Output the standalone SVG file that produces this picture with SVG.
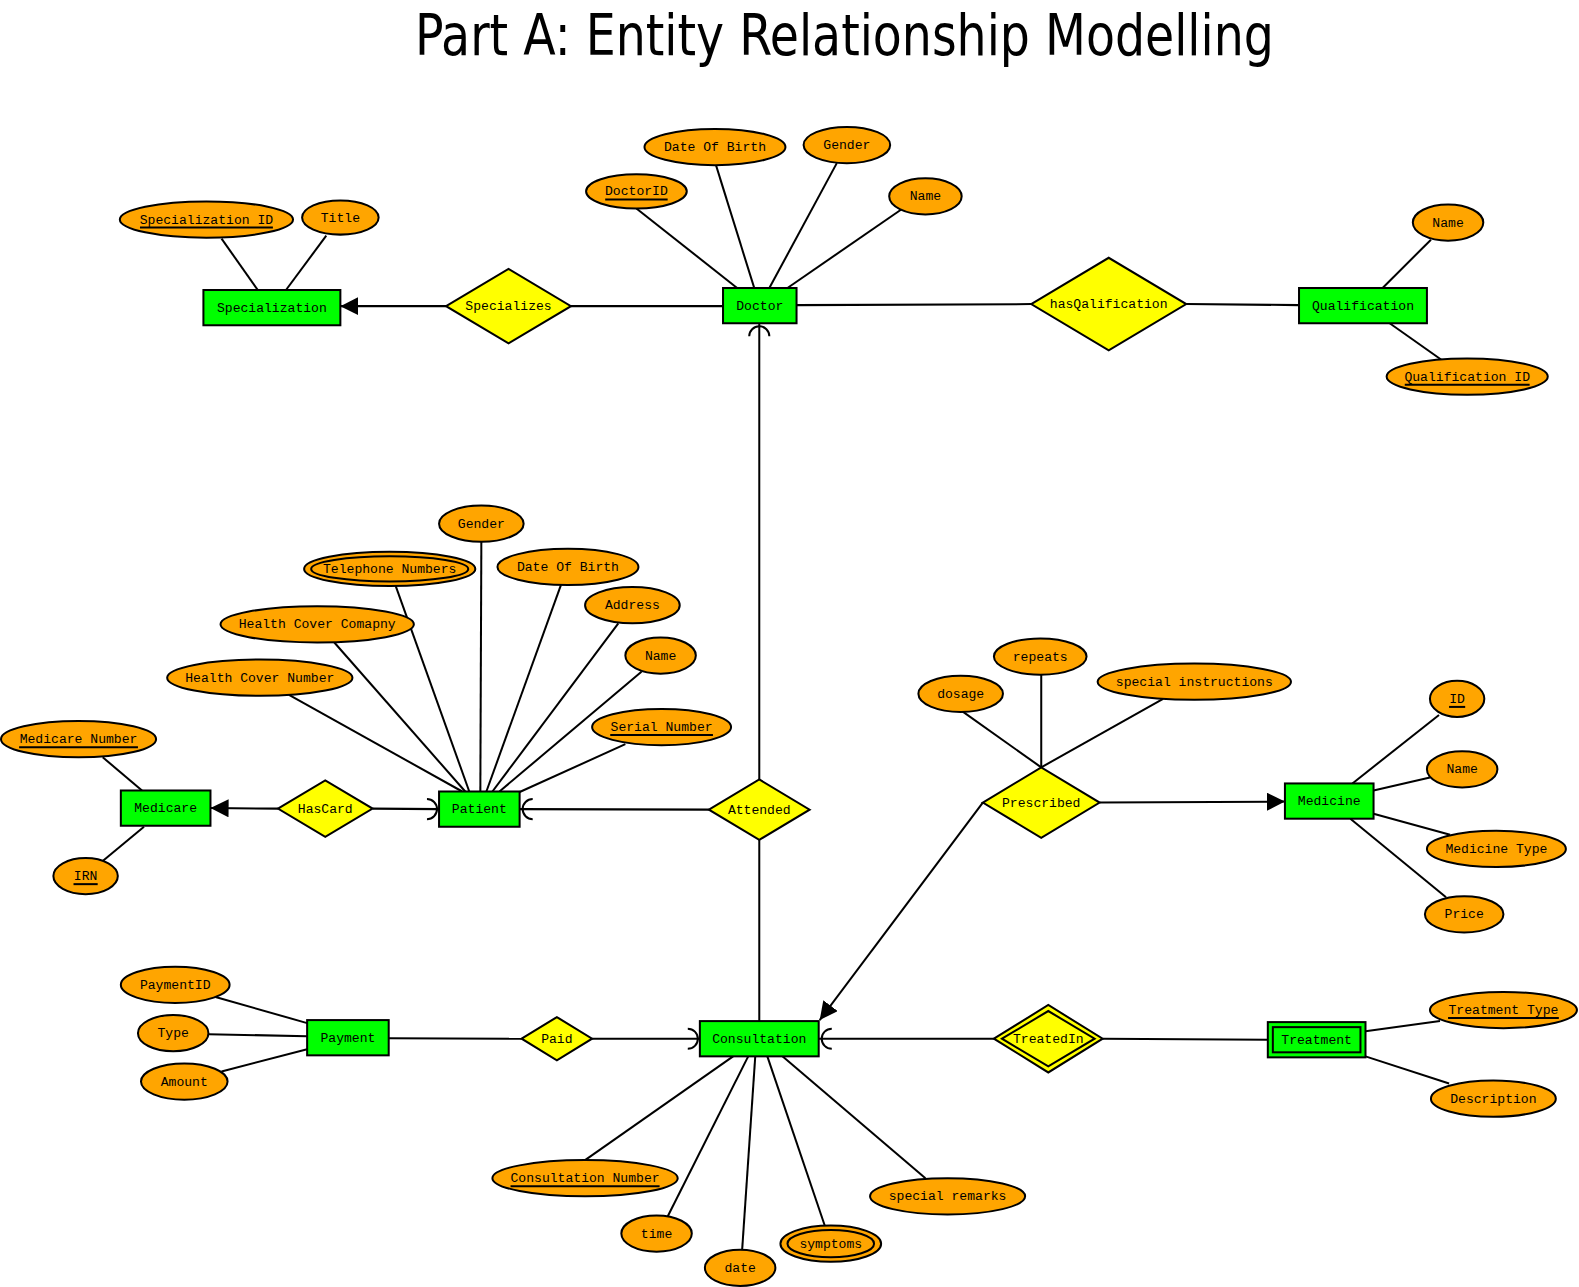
<svg xmlns="http://www.w3.org/2000/svg" width="1579" height="1287" viewBox="0 0 1579 1287">
<style>
.ent{fill:#00FF00;stroke:#000;stroke-width:2}
.rel{fill:#FFFF00;stroke:#000;stroke-width:2}
.att{fill:#FFA500;stroke:#000;stroke-width:2}
.ln{stroke:#000;stroke-width:2;fill:none}
.ul{stroke:#000;stroke-width:2}
text{font-family:"Liberation Mono","Courier New",monospace;font-size:13px;fill:#000;text-anchor:middle}
.title{font-family:"DejaVu Sans Condensed","DejaVu Sans",sans-serif;font-size:56px;text-anchor:start}
</style>
<defs>
<marker id="arr" markerUnits="userSpaceOnUse" markerWidth="20" markerHeight="20" refX="18" refY="9" orient="auto">
<path d="M0,0 L18,9 L0,18 z" fill="#000"/>
</marker>
</defs>
<rect width="1579" height="1287" fill="#fff"/>
<g transform="scale(1.007)">
<text class="title" x="412" y="55" textLength="853" lengthAdjust="spacingAndGlyphs">Part A: Entity Relationship Modelling</text>

<g id="connectors">
<line class="ln" x1="220" y1="237" x2="256" y2="288"/>
<line class="ln" x1="324" y1="234" x2="284" y2="288"/>
<line class="ln" x1="443" y1="304" x2="338" y2="304" marker-end="url(#arr)"/>
<line class="ln" x1="567" y1="304" x2="718" y2="304"/>
<line class="ln" x1="791" y1="303" x2="1024" y2="302"/>
<line class="ln" x1="1178" y1="302" x2="1290" y2="303"/>
<line class="ln" x1="1421" y1="238" x2="1373" y2="286"/>
<line class="ln" x1="1380" y1="321" x2="1431" y2="357"/>
<line class="ln" x1="632" y1="207" x2="732" y2="286"/>
<line class="ln" x1="711" y1="164" x2="749" y2="286"/>
<line class="ln" x1="831" y1="162" x2="764" y2="286"/>
<line class="ln" x1="895" y1="208" x2="782" y2="286"/>
<line class="ln" x1="754" y1="321" x2="754" y2="774"/>
<path class="ln" d="M744,334 A10,10 0 0 1 764,334"/>
<line class="ln" x1="704" y1="804" x2="516" y2="803.5"/>
<path class="ln" d="M529,793.5 A10,10 0 0 0 529,813.5"/>
<line class="ln" x1="754" y1="834" x2="754" y2="1014"/>
<line class="ln" x1="276" y1="803" x2="209" y2="802.5" marker-end="url(#arr)"/>
<line class="ln" x1="370" y1="803" x2="436" y2="803.5"/>
<path class="ln" d="M424,793.5 A10,10 0 0 1 424,813.5"/>
<line class="ln" x1="102" y1="752" x2="141" y2="785"/>
<line class="ln" x1="102" y1="855" x2="143" y2="821"/>
<line class="ln" x1="287" y1="690" x2="459" y2="786"/>
<line class="ln" x1="332" y1="638" x2="462" y2="786"/>
<line class="ln" x1="393" y1="582" x2="466" y2="786"/>
<line class="ln" x1="478" y1="538" x2="477" y2="786"/>
<line class="ln" x1="557" y1="581" x2="483" y2="786"/>
<line class="ln" x1="614" y1="619" x2="489" y2="786"/>
<line class="ln" x1="637" y1="667" x2="496" y2="786"/>
<line class="ln" x1="621" y1="739" x2="515" y2="787"/>
<line class="ln" x1="976" y1="797" x2="814" y2="1013" marker-end="url(#arr)"/>
<line class="ln" x1="1092" y1="797" x2="1276" y2="796" marker-end="url(#arr)"/>
<line class="ln" x1="1034" y1="762" x2="955" y2="706"/>
<line class="ln" x1="1034" y1="762" x2="1034" y2="670"/>
<line class="ln" x1="1034" y1="762" x2="1155" y2="694"/>
<line class="ln" x1="1429" y1="710" x2="1343" y2="778"/>
<line class="ln" x1="1420" y1="772" x2="1364" y2="785"/>
<line class="ln" x1="1440" y1="829" x2="1364" y2="808"/>
<line class="ln" x1="1436" y1="891" x2="1341" y2="813"/>
<line class="ln" x1="214" y1="990" x2="305" y2="1016"/>
<line class="ln" x1="207" y1="1027" x2="305" y2="1029"/>
<line class="ln" x1="220" y1="1064" x2="305" y2="1042"/>
<line class="ln" x1="386" y1="1031" x2="518" y2="1031.5"/>
<line class="ln" x1="588" y1="1031.5" x2="695" y2="1031.5"/>
<path class="ln" d="M683,1021.5 A10,10 0 0 1 683,1041.5"/>
<line class="ln" x1="987" y1="1031.5" x2="813" y2="1031.5"/>
<path class="ln" d="M826,1021.5 A10,10 0 0 0 826,1041.5"/>
<line class="ln" x1="1095" y1="1031.5" x2="1259" y2="1032.5"/>
<line class="ln" x1="581" y1="1152" x2="728" y2="1049"/>
<line class="ln" x1="663" y1="1208" x2="743" y2="1049"/>
<line class="ln" x1="737" y1="1241" x2="750" y2="1049"/>
<line class="ln" x1="819" y1="1217" x2="762" y2="1049"/>
<line class="ln" x1="919" y1="1170" x2="777" y2="1049"/>
<line class="ln" x1="1430" y1="1014" x2="1356" y2="1024"/>
<line class="ln" x1="1439" y1="1076" x2="1356" y2="1049"/>
</g>

<!-- Entities -->
<g id="Specialization"><rect class="ent" x="202" y="288" width="136" height="35"/><text x="270" y="309.5">Specialization</text></g>
<g id="Doctor"><rect class="ent" x="718" y="286" width="73" height="35"/><text x="754.5" y="307.5">Doctor</text></g>
<g id="Qualification"><rect class="ent" x="1290" y="286" width="127" height="35"/><text x="1353.5" y="307.5">Qualification</text></g>
<g id="Medicare"><rect class="ent" x="120" y="785" width="89" height="35"/><text x="164.5" y="806.5">Medicare</text></g>
<g id="Patient"><rect class="ent" x="436" y="786" width="80" height="35"/><text x="476" y="807.5">Patient</text></g>
<g id="Medicine"><rect class="ent" x="1276" y="778" width="88" height="35"/><text x="1320" y="799.5">Medicine</text></g>
<g id="Payment"><rect class="ent" x="305" y="1013" width="81" height="35"/><text x="345.5" y="1034.5">Payment</text></g>
<g id="Consultation"><rect class="ent" x="695" y="1014" width="118" height="35"/><text x="754" y="1035.5">Consultation</text></g>
<g id="Treatment"><rect class="ent" x="1259" y="1015" width="97" height="35"/><rect class="ent" x="1264" y="1020" width="87" height="25"/><text x="1307.5" y="1036.5">Treatment</text></g>

<!-- Relationships -->
<g id="Specializes"><polygon class="rel" points="443,304 505,267 567,304 505,341"/><text x="505" y="308">Specializes</text></g>
<g id="hasQalification"><polygon class="rel" points="1024,302 1101,256 1178,302 1101,348"/><text x="1101" y="306">hasQalification</text></g>
<g id="HasCard"><polygon class="rel" points="276,803 323,775 370,803 323,831"/><text x="323" y="807">HasCard</text></g>
<g id="Attended"><polygon class="rel" points="704,804 754,774 804,804 754,834"/><text x="754" y="808">Attended</text></g>
<g id="Prescribed"><polygon class="rel" points="976,797 1034,762 1092,797 1034,832"/><text x="1034" y="801">Prescribed</text></g>
<g id="Paid"><polygon class="rel" points="518,1031.5 553,1010 588,1031.5 553,1053"/><text x="553" y="1035.5">Paid</text></g>
<g id="TreatedIn"><polygon class="rel" points="987,1031.5 1041,998 1095,1031.5 1041,1065"/><polygon class="rel" points="995,1031.5 1041,1004 1087,1031.5 1041,1059"/><text x="1041" y="1035.5">TreatedIn</text></g>

<!-- Attributes -->
<g id="att-specid"><ellipse class="att" cx="205" cy="218" rx="86" ry="18"/><text x="205" y="222">Specialization ID</text><line class="ul" x1="139" y1="226" x2="271" y2="226"/></g>
<g id="att-title"><ellipse class="att" cx="338" cy="216" rx="38" ry="17"/><text x="338" y="220">Title</text></g>
<g id="att-doctorid"><ellipse class="att" cx="632" cy="190" rx="50" ry="17"/><text x="632" y="194">DoctorID</text><line class="ul" x1="601" y1="198" x2="663" y2="198"/></g>
<g id="att-doc-dob"><ellipse class="att" cx="710" cy="146" rx="70" ry="18"/><text x="710" y="150">Date Of Birth</text></g>
<g id="att-doc-gender"><ellipse class="att" cx="841" cy="144" rx="43" ry="18"/><text x="841" y="148">Gender</text></g>
<g id="att-doc-name"><ellipse class="att" cx="919" cy="195" rx="36" ry="18"/><text x="919" y="199">Name</text></g>
<g id="att-qual-name"><ellipse class="att" cx="1438" cy="221" rx="35" ry="18"/><text x="1438" y="225">Name</text></g>
<g id="att-qualid"><ellipse class="att" cx="1457" cy="374" rx="80" ry="18"/><text x="1457" y="378">Qualification ID</text><line class="ul" x1="1395" y1="382" x2="1519" y2="382"/></g>
<g id="att-pat-gender"><ellipse class="att" cx="478" cy="520" rx="42" ry="18"/><text x="478" y="524">Gender</text></g>
<g id="att-phone"><ellipse class="att" cx="387" cy="565" rx="85" ry="17"/><ellipse class="att" cx="387" cy="565" rx="78" ry="12.5"/><text x="387" y="569">Telephone Numbers</text></g>
<g id="att-pat-dob"><ellipse class="att" cx="564" cy="563" rx="70" ry="18"/><text x="564" y="567">Date Of Birth</text></g>
<g id="att-address"><ellipse class="att" cx="628" cy="601" rx="47" ry="18"/><text x="628" y="605">Address</text></g>
<g id="att-hcc"><ellipse class="att" cx="315" cy="620" rx="96" ry="18"/><text x="315" y="624">Health Cover Comapny</text></g>
<g id="att-pat-name"><ellipse class="att" cx="656" cy="651" rx="35" ry="18"/><text x="656" y="655">Name</text></g>
<g id="att-hcn"><ellipse class="att" cx="258" cy="673" rx="92" ry="18"/><text x="258" y="677">Health Cover Number</text></g>
<g id="att-serial"><ellipse class="att" cx="657" cy="722" rx="69" ry="18"/><text x="657" y="726">Serial Number</text><line class="ul" x1="606" y1="730" x2="708" y2="730"/></g>
<g id="att-medicareno"><ellipse class="att" cx="78" cy="734" rx="77" ry="18"/><text x="78" y="738">Medicare Number</text><line class="ul" x1="19" y1="742" x2="137" y2="742"/></g>
<g id="att-irn"><ellipse class="att" cx="85" cy="870" rx="32" ry="18"/><text x="85" y="874">IRN</text><line class="ul" x1="73" y1="878" x2="97" y2="878"/></g>
<g id="att-dosage"><ellipse class="att" cx="954" cy="689" rx="42" ry="18"/><text x="954" y="693">dosage</text></g>
<g id="att-repeats"><ellipse class="att" cx="1033" cy="652" rx="46" ry="18"/><text x="1033" y="656">repeats</text></g>
<g id="att-instr"><ellipse class="att" cx="1186" cy="677" rx="96" ry="18"/><text x="1186" y="681">special instructions</text></g>
<g id="att-med-id"><ellipse class="att" cx="1447" cy="694" rx="27" ry="18"/><text x="1447" y="698">ID</text><line class="ul" x1="1439" y1="702" x2="1455" y2="702"/></g>
<g id="att-med-name"><ellipse class="att" cx="1452" cy="764" rx="35" ry="18"/><text x="1452" y="768">Name</text></g>
<g id="att-medtype"><ellipse class="att" cx="1486" cy="843" rx="69" ry="18"/><text x="1486" y="847">Medicine Type</text></g>
<g id="att-price"><ellipse class="att" cx="1454" cy="908" rx="39" ry="18"/><text x="1454" y="912">Price</text></g>
<g id="att-paymentid"><ellipse class="att" cx="174" cy="978" rx="54" ry="18"/><text x="174" y="982">PaymentID</text></g>
<g id="att-type"><ellipse class="att" cx="172" cy="1026" rx="35" ry="18"/><text x="172" y="1030">Type</text></g>
<g id="att-amount"><ellipse class="att" cx="183" cy="1074" rx="43" ry="18"/><text x="183" y="1078">Amount</text></g>
<g id="att-consno"><ellipse class="att" cx="581" cy="1170" rx="92" ry="18"/><text x="581" y="1174">Consultation Number</text><line class="ul" x1="507" y1="1178" x2="655" y2="1178"/></g>
<g id="att-time"><ellipse class="att" cx="652" cy="1225" rx="35" ry="18"/><text x="652" y="1229">time</text></g>
<g id="att-date"><ellipse class="att" cx="735" cy="1259" rx="35" ry="18"/><text x="735" y="1263">date</text></g>
<g id="att-symptoms"><ellipse class="att" cx="825" cy="1235" rx="50" ry="18"/><ellipse class="att" cx="825" cy="1235" rx="43" ry="13.5"/><text x="825" y="1239">symptoms</text></g>
<g id="att-remarks"><ellipse class="att" cx="941" cy="1188" rx="77" ry="18"/><text x="941" y="1192">special remarks</text></g>
<g id="att-ttype"><ellipse class="att" cx="1493" cy="1003" rx="73" ry="18"/><text x="1493" y="1007">Treatment Type</text><line class="ul" x1="1438" y1="1011" x2="1548" y2="1011"/></g>
<g id="att-desc"><ellipse class="att" cx="1483" cy="1091" rx="62" ry="18"/><text x="1483" y="1095">Description</text></g>
</g>
</svg>
